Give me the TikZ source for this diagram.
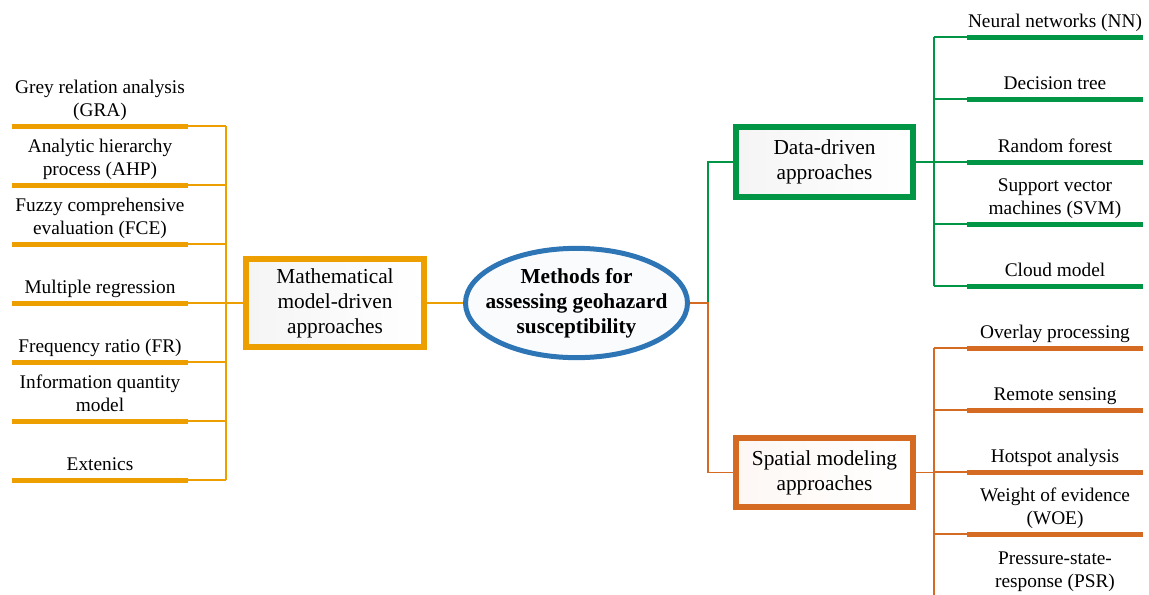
\documentclass[tikz,border=0pt]{standalone}
\usepackage{fontspec}
\setmainfont{Liberation Serif}
\usetikzlibrary{shapes.geometric,calc}
\definecolor{orL}{RGB}{238,159,0}
\definecolor{grC}{RGB}{0,150,70}
\definecolor{orD}{RGB}{213,106,35}
\definecolor{blC}{RGB}{46,117,182}
\begin{document}
\begin{tikzpicture}[x=0.75pt,y=-0.75pt,
  leaf/.style={minimum width=132pt, inner xsep=0pt, inner ysep=2pt, align=center,
    anchor=south, font=\fontsize{14.5}{16.8}\selectfont},
  box/.style={line width=4.5pt, align=center, inner sep=0pt,
    font=\fontsize{16}{18.75}\selectfont},
  thinL/.style={draw=orL, line width=1pt},
  thickL/.style={draw=orL, line width=3.75pt},
  thinG/.style={draw=grC, line width=1pt},
  thickG/.style={draw=grC, line width=3.75pt},
  thinD/.style={draw=orD, line width=1pt},
  thickD/.style={draw=orD, line width=3.75pt}]
\useasboundingbox (0,0) rectangle (1149,594);

% centre
\node[ellipse, draw=blC, line width=3.75pt, fill=blC!3, minimum width=166.5pt,
  minimum height=82pt, inner sep=0pt] (root) at (576.5,303) {};
\node[align=center, font=\fontsize{16}{18.75}\selectfont\bfseries] (roottext) at (root.center)
  {Methods for\\assessing geohazard\\susceptibility};

% category boxes
\node[box, draw=orL, left color=black!4, right color=white, minimum width=133.5pt,
  minimum height=66pt] (math) at (335,303) {Mathematical\\model-driven\\approaches};
\node[box, draw=grC, left color=black!4, right color=white, minimum width=132.75pt,
  minimum height=52.5pt] (data) at (824.5,162) {Data-driven\\approaches};
\node[box, draw=orD, left color=orD!5, right color=white, minimum width=132.75pt,
  minimum height=52pt] (spat) at (824.5,472.5) {Spatial modeling\\approaches};

% left leaves
\coordinate (lspine) at (226,303);
\foreach \nm/\yy/\txt in {gra/126/{Grey relation analysis\\(GRA)},
    ahp/185/{Analytic hierarchy\\process (AHP)},
    fce/244/{Fuzzy comprehensive\\evaluation (FCE)},
    mr/303/{Multiple regression},
    fr/362/{Frequency ratio (FR)},
    iqm/421/{Information quantity\\model},
    ext/480/{Extenics}}{
  \node[leaf] (\nm) at (100,\yy) {\txt\strut};
  \draw[thickL] (\nm.south west) -- (\nm.south east);
  \draw[thinL] (\nm.south east) -- (\nm.south east -| lspine);
}
\draw[thinL] (gra.south east -| lspine) -- (ext.south east -| lspine);
\draw[thinL] (math.west) -- (math.west -| lspine);
\draw[thinL] (math.east) -- (root.west);

% split to the right
\coordinate (rsplit) at (708,303);
\draw[thinG] (rsplit) |- (data.west);
\draw[thinD] (root.east) -- (rsplit) |- (spat.west);

% data-driven leaves
\coordinate (dspine) at (934,162);
\foreach \nm/\yy/\txt in {nn/37/{Neural networks (NN)},
    dt/99/{Decision tree},
    rf/162/{Random forest},
    svm/224/{Support vector\\machines (SVM)},
    cm/286/{Cloud model}}{
  \node[leaf] (\nm) at (1055,\yy) {\txt\strut};
  \draw[thickG] (\nm.south west) -- (\nm.south east);
  \draw[thinG] (\nm.south west -| dspine) -- (\nm.south west);
}
\draw[thinG] (nn.south west -| dspine) -- (cm.south west -| dspine);
\draw[thinG] (data.east) -- (data.east -| dspine);

% spatial leaves
\coordinate (sspine) at (934,472);
\foreach \nm/\yy/\txt in {op/348/{Overlay processing},
    rs/410/{Remote sensing},
    ha/472/{Hotspot analysis},
    woe/534/{Weight of evidence\\(WOE)},
    psr/597/{Pressure-state-\\response (PSR)}}{
  \node[leaf] (\nm) at (1055,\yy) {\txt\strut};
  \draw[thickD] (\nm.south west) -- (\nm.south east);
  \draw[thinD] (\nm.south west -| sspine) -- (\nm.south west);
}
\draw[thinD] (op.south west -| sspine) -- (psr.south west -| sspine);
\draw[thinD] (spat.east) -- (spat.east -| sspine);
\end{tikzpicture}
\end{document}
